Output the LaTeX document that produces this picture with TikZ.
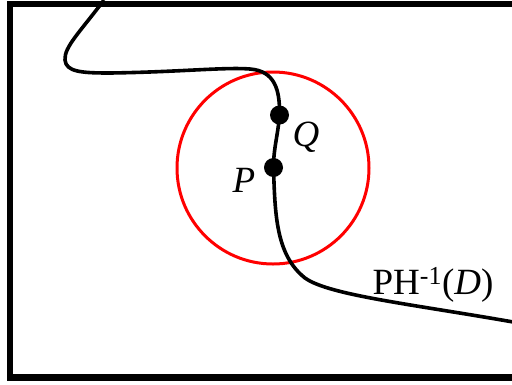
\documentclass[tikz,border=0pt]{standalone}
\usepackage{fontspec}
\setmainfont{Liberation Serif}
\usetikzlibrary{positioning}

\begin{document}
\begin{tikzpicture}[x=1pt,y=-1pt,
    frame/.style={draw=black, line width=6.5pt},
    ball/.style={draw=red, line width=3pt},
    orbit/.style={draw=black, line width=3.6pt},
    dot/.style={circle, fill=black, inner sep=0pt, minimum size=19pt},
    lbl/.style={font=\fontsize{37}{40}\selectfont, anchor=base, inner sep=0pt}
]
\useasboundingbox (0,0) rectangle (512,384);
\clip (0,0) rectangle (512,384);

% Outer frame (runs off the right edge)
\draw[frame] (10,4.2) rectangle (560,377.5);

% Neighbourhood
\draw[ball] (273,168) circle (96);

% Points on the curve
\node[dot] (Q) at (279.5,115) {};
\node[dot] (P) at (273.5,167.5) {};
\node[lbl] (Qlabel) at (306,146) {\textit{Q}};
\node[lbl] (Plabel) at (244,192) {\textit{P}};

% Curve ends
\coordinate (top) at (104,0);
\coordinate (bend1) at (65,60);
\coordinate (flat) at (110,73);
\coordinate (knee) at (250,69);
\coordinate (lower) at (305,278);
\coordinate (exit) at (530,325);

% The curve
\draw[orbit] (top) .. controls (80,32) and (64,47) .. (bend1)
    .. controls (66,72) and (82,73) .. (flat)
    .. controls (180,72) and (225,67) .. (knee)
    .. controls (275,71) and (280,90) .. (Q.center)
    .. controls (278,135) and (273.5,148) .. (P.center)
    .. controls (275,215) and (276,255) .. (lower)
    .. controls (330,296) and (420,305) .. (exit);

% Curve label
\node[lbl] (curvelabel) at (433,294) {PH\textsuperscript{-1}(\textit{D})};

\end{tikzpicture}
\end{document}
